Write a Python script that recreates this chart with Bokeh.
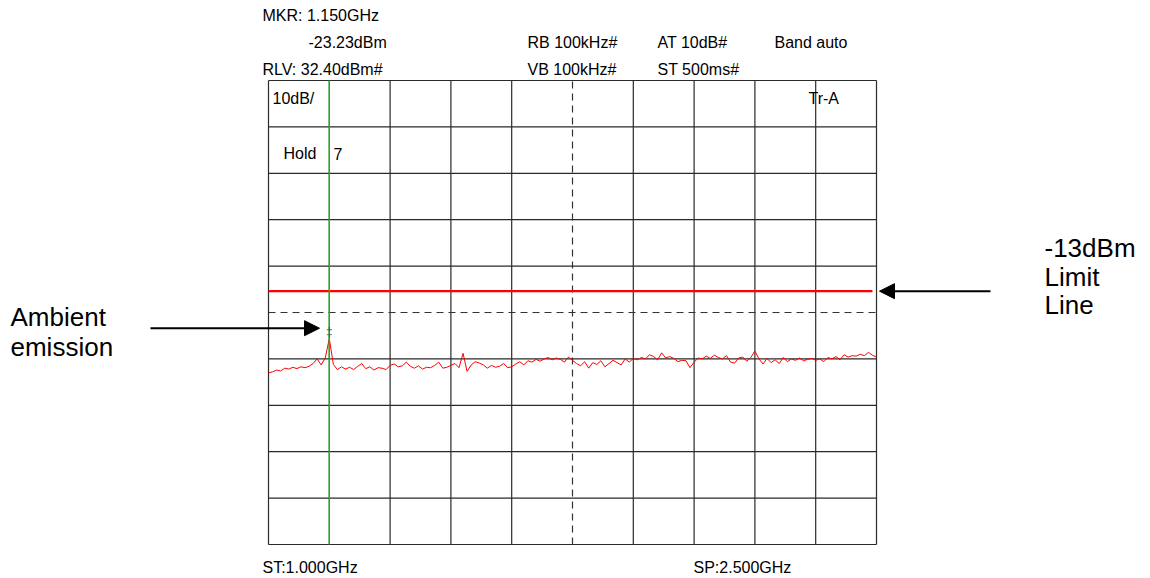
from bokeh.plotting import figure
from bokeh.models import Range1d, Arrow, NormalHead
from bokeh.embed import file_html
from bokeh.resources import INLINE
from bokeh.core.properties import value

# ---- analyzer settings / data ----
START_GHZ = 1.0
STOP_GHZ = 2.5
REF_LEVEL_DBM = 32.4
DB_PER_DIV = 10
N_DIV = 10
MARKER_GHZ = 1.15
MARKER_DBM = -23.23
LIMIT_DBM = -13.0
LIMIT_STOP_GHZ = 2.49

trace_dbm = [
    -30.6, -30.4, -30.0, -30.2, -29.6, -29.8, -29.4, -29.7, -29.3, -29.5,
    -29.2, -28.6, -27.6, -28.9, -27.4, -23.23, -28.8, -29.9, -29.3, -29.8,
    -29.4, -29.9, -29.2, -28.6, -29.7, -29.3, -30.0, -29.5, -29.6, -29.9,
    -29.0, -28.7, -29.3, -29.1, -28.3, -29.2, -29.6, -29.1, -29.8, -29.4,
    -29.5, -29.0, -28.3, -29.6, -29.4, -29.0, -28.6, -29.5, -26.4, -30.3,
    -28.9, -28.2, -28.5, -28.9, -29.6, -29.0, -29.4, -29.2, -28.6, -29.5,
    -29.3, -28.7, -28.2, -28.9, -28.0, -28.3, -27.7, -28.1, -27.6, -27.3,
    -27.8, -27.4, -27.7, -28.3, -27.2, -27.9, -28.6, -29.1, -28.2, -29.6,
    -28.4, -28.8, -28.0, -29.3, -28.6, -27.9, -28.4, -28.9, -27.6, -28.3,
    -27.5, -27.8, -27.3, -27.6, -26.7, -27.1, -27.8, -26.3, -27.4, -27.1,
    -27.5, -28.2, -27.9, -28.0, -29.5, -28.3, -27.4, -27.6, -27.0, -27.5,
    -26.8, -27.3, -27.6, -26.9, -28.3, -28.5, -27.4, -27.2, -28.1, -27.3,
    -25.9, -27.6, -28.7, -27.5, -28.4, -27.8, -28.6, -27.3, -28.2, -27.6,
    -27.9, -27.4, -28.0, -27.7, -27.5, -27.9, -27.6, -28.2, -27.3, -27.6,
    -27.1, -27.8, -26.7, -27.2, -26.9, -27.0, -26.6, -26.9, -26.2, -26.8,
    -27.2,
]
n_pts = len(trace_dbm)
trace_ghz = [START_GHZ + (STOP_GHZ - START_GHZ) * i / (n_pts - 1) for i in range(n_pts)]

# ---- layout (canvas pixels) ----
W, H = 1150, 578
GX0, GX1, GY0, GY1 = 268, 876, 80, 544
ghz_per_px = (STOP_GHZ - START_GHZ) / (GX1 - GX0)
db_per_px = DB_PER_DIV * N_DIV / (GY1 - GY0)
BOTTOM_DBM = REF_LEVEL_DBM - DB_PER_DIV * N_DIV


def fx(px):  # canvas px -> GHz
    return START_GHZ + (px - GX0) * ghz_per_px


def fy(py):  # canvas px -> dBm
    return REF_LEVEL_DBM - (py - GY0) * db_per_px


p = figure(width=W, height=H, output_backend="svg", toolbar_location=None,
           x_axis_type=None, y_axis_type=None, min_border=0,
           x_range=Range1d(START_GHZ - GX0 * ghz_per_px, START_GHZ + (W - GX0) * ghz_per_px),
           y_range=Range1d(REF_LEVEL_DBM - (H - GY0) * db_per_px, REF_LEVEL_DBM + GY0 * db_per_px))
p.grid.visible = False
p.outline_line_color = None
p.background_fill_color = "white"
p.border_fill_color = "white"

FONT = value("Liberation Sans")

# grid
step_f = (STOP_GHZ - START_GHZ) / N_DIV
vx = [START_GHZ + i * step_f for i in range(N_DIV + 1) if i != N_DIV // 2]
p.segment(x0=vx, x1=vx, y0=[BOTTOM_DBM] * len(vx), y1=[REF_LEVEL_DBM] * len(vx),
          line_color="#2a2a2a", line_width=1.2)
hy = [REF_LEVEL_DBM - j * DB_PER_DIV for j in range(N_DIV + 1) if j != N_DIV // 2]
p.segment(x0=[START_GHZ] * len(hy), x1=[STOP_GHZ] * len(hy), y0=hy, y1=hy,
          line_color="#2a2a2a", line_width=1.2)
cx = START_GHZ + (N_DIV // 2) * step_f
cy = REF_LEVEL_DBM - (N_DIV // 2) * DB_PER_DIV
p.segment(x0=[cx], x1=[cx], y0=[BOTTOM_DBM], y1=[REF_LEVEL_DBM],
          line_color="#333333", line_width=1.2, line_dash="7 5")
p.segment(x0=[START_GHZ], x1=[STOP_GHZ], y0=[cy], y1=[cy],
          line_color="#333333", line_width=1.2, line_dash="7 5")

# trace and limit
p.line(trace_ghz, trace_dbm, line_color="#ff0000", line_width=1)
p.line([START_GHZ, LIMIT_STOP_GHZ], [LIMIT_DBM, LIMIT_DBM], line_color="#ff0000", line_width=2.2)

# marker
p.segment(x0=[MARKER_GHZ], x1=[MARKER_GHZ], y0=[BOTTOM_DBM], y1=[REF_LEVEL_DBM],
          line_color="#00cc00", line_width=1.3)
p.text(x=[MARKER_GHZ], y=[MARKER_DBM], text=["‡"], text_font=FONT, text_font_size="12px",
       text_color="#555555", text_align="center", text_baseline="bottom")

# header / footer texts
small_txt = [
    ("MKR: %.3fGHz" % MARKER_GHZ, 262, 15),
    ("%.2fdBm" % MARKER_DBM, 308, 42),
    ("RLV: %.2fdBm#" % REF_LEVEL_DBM, 262, 69),
    ("RB 100kHz#", 527, 42),
    ("VB 100kHz#", 527, 69),
    ("AT 10dB#", 657, 42),
    ("ST 500ms#", 657, 69),
    ("Band auto", 774, 42),
    ("%ddB/" % DB_PER_DIV, 272, 98),
    ("Hold", 283, 153),
    ("7", 333, 153),
    ("Tr-A", 808, 98),
    ("ST:%.3fGHz" % START_GHZ, 262, 567),
    ("SP:%.3fGHz" % STOP_GHZ, 693, 567),
]
p.text(x=[fx(t[1]) for t in small_txt], y=[fy(t[2]) for t in small_txt],
       text=[t[0] for t in small_txt], text_font=FONT, text_font_size="16px",
       text_color="black", text_align="left", text_baseline="middle")

big_txt = [
    ("%ddBm" % LIMIT_DBM, 1044, 247),
    ("Limit", 1044, 276),
    ("Line", 1044, 304),
    ("Ambient", 10, 316),
    ("emission", 10, 346),
]
p.text(x=[fx(t[1]) for t in big_txt], y=[fy(t[2]) for t in big_txt],
       text=[t[0] for t in big_txt], text_font=FONT, text_font_size="26px",
       text_color="black", text_align="left", text_baseline="middle")

# arrows
p.add_layout(Arrow(end=NormalHead(size=15, fill_color="black", line_color="black"),
                   x_start=fx(150), y_start=fy(327.7), x_end=fx(319), y_end=fy(327.7),
                   line_color="black", line_width=2))
p.add_layout(Arrow(end=NormalHead(size=15, fill_color="black", line_color="black"),
                   x_start=fx(990), y_start=LIMIT_DBM, x_end=fx(879), y_end=LIMIT_DBM,
                   line_color="black", line_width=2))

open("out.html", "w").write(file_html(p, INLINE))
